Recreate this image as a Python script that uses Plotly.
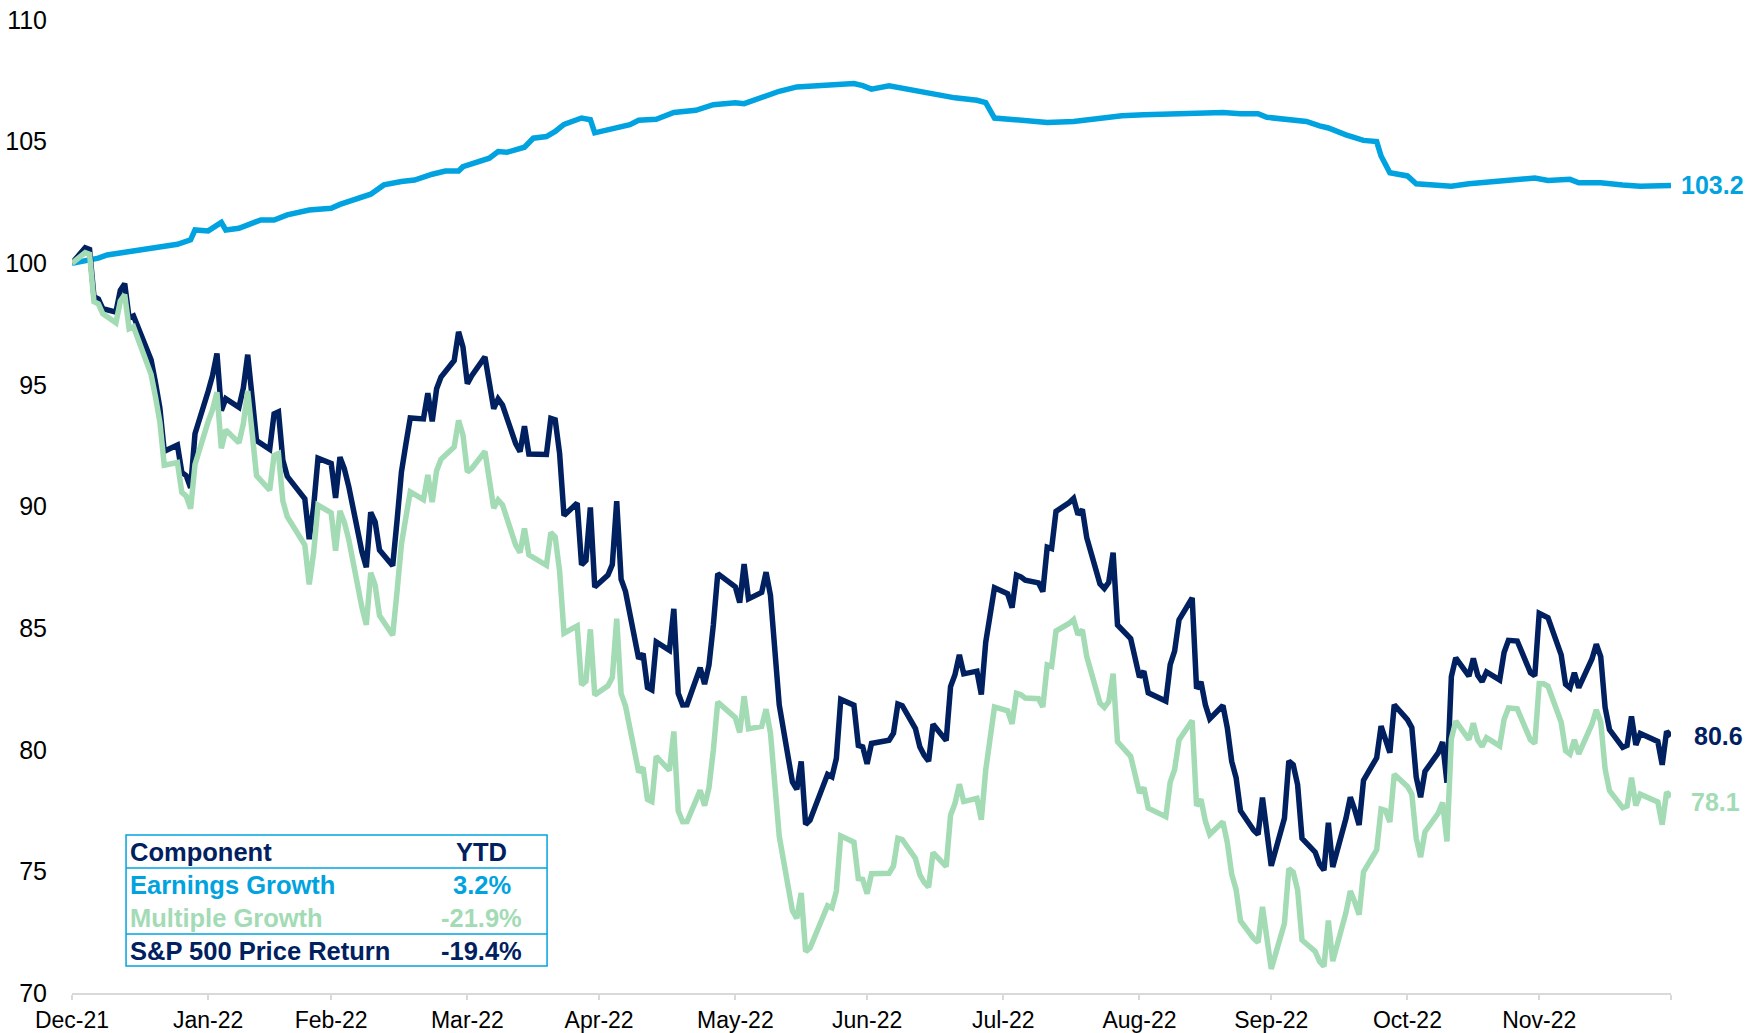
import pandas as pd
import plotly.graph_objects as go

# ---------------- data ----------------
holidays_2022 = ["2022-01-17", "2022-02-21", "2022-04-15", "2022-05-30", "2022-06-20",
                 "2022-07-04", "2022-09-05", "2022-11-24", "2022-12-26"]

# S&P 500 price return index (31-Dec-2021 = 100), one value per trading day
sp500_return = [
    100.00,
    # Jan
    100.64, 100.57, 98.62, 98.53, 98.13, 97.99, 98.89, 99.16, 97.75, 97.83,
    96.03, 95.10, 94.05, 92.27, 92.53, 91.40, 91.27, 90.77, 92.99, 94.74,
    # Feb
    95.39, 96.29, 93.94, 94.43, 94.08, 94.87, 96.24, 94.50, 92.71, 92.35,
    93.81, 93.89, 91.90, 91.24, 90.32, 88.66, 89.98, 91.99, 91.77,
    # Mar
    90.35, 92.03, 91.55, 90.82, 88.14, 87.50, 89.76, 89.37, 88.21, 87.56,
    89.43, 91.43, 92.56, 93.64, 93.60, 94.66, 93.50, 94.84, 95.32, 96.00,
    97.18, 96.56, 95.05,
    # Apr
    95.38, 96.15, 94.94, 94.02, 94.42, 94.17, 92.58, 92.26, 93.30, 92.16,
    92.14, 93.62, 93.56, 92.18, 89.63, 90.14, 87.60, 87.78, 89.96, 86.69,
    # May
    87.18, 87.61, 90.22, 87.01, 86.51, 83.74, 83.95, 82.56, 82.46, 84.43,
    84.09, 85.79, 82.32, 81.84, 81.85, 83.37, 82.70, 83.48, 85.14, 87.24,
    86.70,
    # Jun
    86.05, 87.63, 86.20, 86.47, 87.30, 86.35, 84.30, 81.84, 78.67, 78.37,
    79.52, 76.93, 77.10, 78.99, 78.89, 79.64, 82.07, 81.83, 80.18, 80.12,
    79.42,
    # Jul
    80.26, 80.39, 80.68, 81.88, 81.81, 80.87, 80.12, 79.77, 79.53, 81.05,
    80.38, 82.60, 83.08, 83.90, 83.12, 83.23, 82.27, 84.42, 85.44, 86.66,
    # Aug
    86.41, 85.84, 87.18, 87.11, 86.97, 86.86, 86.50, 88.33, 88.27, 89.80,
    90.16, 90.33, 89.67, 89.88, 88.72, 86.82, 86.63, 86.88, 88.10, 85.13,
    84.57, 83.63, 82.98,
    # Sep
    83.23, 82.34, 82.00, 83.50, 84.05, 85.34, 86.24, 82.51, 82.79, 81.85,
    81.27, 81.82, 80.90, 79.52, 78.85, 77.49, 76.69, 76.52, 78.03, 76.38,
    75.23,
    # Oct
    77.18, 79.54, 79.38, 78.56, 76.36, 75.79, 75.30, 75.05, 77.00, 75.18,
    77.17, 78.05, 77.53, 76.91, 78.74, 79.67, 80.97, 80.37, 79.88, 81.85,
    81.24,
    # Nov
    80.91, 78.88, 78.05, 79.11, 79.87, 80.32, 78.65, 83.01, 83.78, 83.03,
    83.75, 83.06, 82.80, 83.20, 82.87, 84.00, 84.50, 84.47, 83.17, 83.04,
    85.61,
    # Dec
    85.53, 85.43, 83.90, 82.69, 82.54, 83.16, 82.55, 83.73, 84.34, 83.83,
    81.74, 80.83, 80.10, 80.18, 81.37, 80.20, 80.67, 80.34, 79.38, 80.76,
    80.56,
]

# Multiple (P/E) growth index, one value per trading day
multiple_growth = [
    100.00,
    # Jan
    100.44, 100.37, 98.42, 98.33, 97.93, 97.55, 98.44, 98.71, 97.31, 97.39,
    95.43, 94.51, 93.47, 91.70, 91.81, 90.58, 90.43, 89.91, 91.73, 93.50,
    # Feb
    93.98, 94.70, 92.39, 93.15, 92.62, 93.40, 94.75, 93.04, 91.27, 90.67,
    92.10, 92.18, 90.23, 89.58, 88.42, 86.80, 88.09, 90.06, 89.74,
    # Mar
    88.18, 89.82, 89.35, 88.64, 85.85, 85.14, 87.28, 86.78, 85.52, 84.71,
    86.52, 88.46, 89.55, 90.60, 90.28, 91.30, 90.18, 91.47, 91.94, 92.45,
    93.54, 92.94, 91.42,
    # Apr
    91.56, 92.26, 90.95, 89.93, 90.27, 90.07, 88.41, 88.11, 89.10, 88.01,
    87.58, 88.93, 88.75, 87.34, 84.79, 85.09, 82.67, 82.82, 84.95, 82.25,
    # May
    82.63, 82.97, 85.39, 82.31, 81.80, 79.08, 79.27, 77.96, 77.87, 79.73,
    79.15, 80.75, 77.49, 77.04, 77.05, 78.33, 77.70, 78.43, 79.99, 81.96,
    81.32,
    # Jun
    80.71, 82.20, 80.86, 80.96, 81.67, 80.69, 78.74, 76.44, 73.38, 73.07,
    74.11, 71.70, 71.85, 73.59, 73.50, 74.19, 76.46, 76.20, 74.70, 74.67,
    74.08,
    # Jul
    74.90, 74.92, 75.22, 76.36, 76.31, 75.53, 74.86, 74.55, 74.35, 75.77,
    75.20, 77.31, 77.79, 78.58, 77.87, 78.00, 77.12, 79.16, 80.37, 81.76,
    # Aug
    81.60, 81.06, 82.32, 82.26, 82.13, 82.10, 81.76, 83.49, 83.43, 84.88,
    85.19, 85.35, 84.73, 84.93, 83.83, 81.92, 81.74, 81.98, 83.13, 80.33,
    79.73, 78.85, 78.23,
    # Sep
    78.44, 77.60, 77.25, 78.67, 79.18, 80.40, 81.20, 77.69, 77.96, 77.07,
    76.52, 77.04, 76.18, 74.88, 74.25, 72.96, 72.24, 72.08, 73.54, 72.06,
    70.99,
    # Oct
    72.86, 75.11, 74.97, 74.24, 72.18, 71.71, 71.29, 71.09, 72.98, 71.31,
    73.30, 74.19, 73.75, 73.22, 74.98, 75.88, 77.56, 77.50, 77.03, 78.99,
    78.49,
    # Nov
    78.18, 76.36, 75.59, 76.63, 77.39, 77.83, 76.23, 80.45, 81.18, 80.42,
    81.09, 80.40, 80.13, 80.50, 80.16, 81.24, 81.72, 81.68, 80.41, 80.26,
    82.72,
    # Dec
    82.71, 82.61, 81.13, 79.96, 79.82, 80.41, 79.83, 81.05, 81.64, 81.15,
    79.21, 78.32, 77.62, 77.69, 78.85, 77.71, 78.17, 77.85, 76.92, 78.26,
    78.06,
]

# Earnings growth index (read at its visible vertices)
earnings_dates = [
    "2021-12-31", "2022-01-06", "2022-01-08", "2022-01-14", "2022-01-18", "2022-01-24",
    "2022-01-27", "2022-01-28", "2022-01-31", "2022-02-03", "2022-02-04", "2022-02-07",
    "2022-02-12", "2022-02-15", "2022-02-18", "2022-02-23", "2022-02-28", "2022-03-02",
    "2022-03-09", "2022-03-12", "2022-03-16", "2022-03-19", "2022-03-23", "2022-03-26",
    "2022-03-29", "2022-03-30", "2022-04-05", "2022-04-07", "2022-04-09", "2022-04-13",
    "2022-04-15", "2022-04-18", "2022-04-20", "2022-04-22", "2022-04-26", "2022-04-28",
    "2022-04-29", "2022-05-03", "2022-05-07", "2022-05-09", "2022-05-13", "2022-05-17",
    "2022-05-22", "2022-05-26", "2022-05-31", "2022-06-02", "2022-06-06", "2022-06-10",
    "2022-06-14", "2022-06-19", "2022-06-25", "2022-06-27", "2022-06-29", "2022-07-01",
    "2022-07-05", "2022-07-08", "2022-07-11", "2022-07-15", "2022-07-20", "2022-07-25",
    "2022-07-27", "2022-07-29", "2022-08-01", "2022-08-05", "2022-08-10", "2022-08-16",
    "2022-08-22", "2022-08-27", "2022-09-01", "2022-09-09", "2022-09-14", "2022-09-19",
    "2022-09-23", "2022-09-27", "2022-09-29", "2022-10-04", "2022-10-08", "2022-10-11",
    "2022-10-13", "2022-10-17", "2022-10-21", "2022-10-24", "2022-10-25", "2022-10-27",
    "2022-10-31", "2022-11-02", "2022-11-06", "2022-11-10", "2022-11-14", "2022-11-19",
    "2022-11-24", "2022-11-29", "2022-12-02", "2022-12-07", "2022-12-09", "2022-12-14",
    "2022-12-19", "2022-12-23", "2022-12-30",
]
earnings_growth = [
    100.00, 100.21, 100.34, 100.51, 100.62, 100.78,
    100.96, 101.37, 101.33, 101.68, 101.37, 101.44,
    101.78, 101.78, 101.99, 102.19, 102.26, 102.42,
    102.84, 103.22, 103.36, 103.42, 103.66, 103.79,
    103.79, 103.97, 104.32, 104.59, 104.56, 104.77,
    105.14, 105.21, 105.42, 105.71, 105.97, 105.90,
    105.36, 105.51, 105.70, 105.88, 105.92, 106.20,
    106.29, 106.52, 106.60, 106.56, 106.80, 107.07,
    107.25, 107.30, 107.34, 107.39, 107.30, 107.16,
    107.30, 107.20, 107.07, 106.98, 106.80, 106.70,
    106.60, 105.97, 105.92, 105.88, 105.79, 105.83,
    105.97, 106.06, 106.10, 106.15, 106.20, 106.20,
    106.15, 106.15, 106.00, 105.92, 105.83, 105.65,
    105.56, 105.28, 105.05, 105.00, 104.41, 103.72,
    103.59, 103.27, 103.22, 103.17, 103.27, 103.36,
    103.40, 103.50, 103.40, 103.45, 103.31, 103.31,
    103.22, 103.17, 103.20,
]

tick_dates = ["2021-12-31", "2022-01-31", "2022-02-28", "2022-03-31", "2022-04-30",
              "2022-05-31", "2022-06-30", "2022-07-31", "2022-08-31", "2022-09-30",
              "2022-10-31", "2022-11-30", "2022-12-30"]
tick_labels = ["Dec-21", "Jan-22", "Feb-22", "Mar-22", "Apr-22", "May-22", "Jun-22",
               "Jul-22", "Aug-22", "Sep-22", "Oct-22", "Nov-22", ""]
y_ticks = [70, 75, 80, 85, 90, 95, 100, 105, 110]

table_components = ["Earnings Growth", "Multiple Growth", "S&P 500 Price Return"]
table_ytd = ["3.2%", "-21.9%", "-19.4%"]

# ---------------- styling ----------------
NAVY = "#002060"
BLUE = "#00A3E0"
GREEN = "#A3DBB5"
FONT = "Liberation Sans, Arial, sans-serif"
LW = 5.5

trade_dates = pd.bdate_range("2021-12-31", "2022-12-30", freq="C", holidays=holidays_2022)
n = min(len(trade_dates), len(sp500_return), len(multiple_growth))
trade_dates = trade_dates[:n]
sp500_return = sp500_return[:n]
multiple_growth = multiple_growth[:n]

fig = go.Figure()
fig.add_trace(go.Scatter(x=earnings_dates, y=earnings_growth, mode="lines",
                         line=dict(color=BLUE, width=LW), name="Earnings Growth"))
fig.add_trace(go.Scatter(x=trade_dates, y=sp500_return, mode="lines",
                         line=dict(color=NAVY, width=LW), name="S&P 500 Price Return"))
fig.add_trace(go.Scatter(x=trade_dates, y=multiple_growth, mode="lines",
                         line=dict(color=GREEN, width=LW), name="Multiple Growth"))

# end-of-line value labels
end_labels = [
    (earnings_dates[-1], earnings_growth[-1], BLUE, 8, 0),
    (trade_dates[-1], sp500_return[-1], NAVY, 21, 0),
    (trade_dates[-1], multiple_growth[-1], GREEN, 18, -5),
]
for xv, yv, col, xs, ys in end_labels:
    fig.add_annotation(x=xv, y=yv, xref="x", yref="y", text=f"<b>{yv:.1f}</b>",
                       showarrow=False, xanchor="left", yanchor="middle",
                       xshift=xs, yshift=ys,
                       font=dict(family=FONT, size=25, color=col))

# ---------------- table overlay ----------------
tx0, tx1 = 0.0338, 0.2971
ty0, ty1 = 0.0277, 0.1624
fig.add_shape(type="rect", xref="paper", yref="paper", x0=tx0, x1=tx1, y0=ty0, y1=ty1,
              line=dict(color=BLUE, width=1.5), fillcolor="white", layer="above")
for yl in (0.1285, 0.0606):
    fig.add_shape(type="line", xref="paper", yref="paper", x0=tx0, x1=tx1, y0=yl, y1=yl,
                  line=dict(color=BLUE, width=1.5), layer="above")

row_y = [0.1449, 0.1110, 0.0771, 0.0432]
row_colors = [NAVY, BLUE, GREEN, NAVY]
left_texts = ["Component"] + table_components
right_texts = ["YTD"] + table_ytd
for ry, col, lt, rt in zip(row_y, row_colors, left_texts, right_texts):
    fig.add_annotation(x=0.0350, y=ry, xref="paper", yref="paper", text=f"<b>{lt}</b>",
                       showarrow=False, xanchor="left", yanchor="middle",
                       font=dict(family=FONT, size=25.5, color=col))
    fig.add_annotation(x=0.2564, y=ry, xref="paper", yref="paper", text=f"<b>{rt}</b>",
                       showarrow=False, xanchor="center", yanchor="middle",
                       font=dict(family=FONT, size=25.5, color=col))

fig.update_layout(
    width=1747, height=1033,
    margin=dict(l=72, r=76, t=20, b=40),
    paper_bgcolor="white", plot_bgcolor="white",
    showlegend=False,
    font=dict(family=FONT, color="black"),
    xaxis=dict(type="date", range=[tick_dates[0], tick_dates[-1]],
               tickmode="array", tickvals=tick_dates, ticktext=tick_labels,
               showline=True, linecolor="#D9D9D9", linewidth=2,
               ticks="outside", tickcolor="#D9D9D9", tickwidth=2, ticklen=5,
               showgrid=False, zeroline=False, automargin=False,
               tickfont=dict(family=FONT, size=23, color="black")),
    yaxis=dict(range=[70, 110], tickmode="array", tickvals=y_ticks,
               showgrid=False, zeroline=False, showline=False, ticks="",
               ticklabelstandoff=24, automargin=False,
               tickfont=dict(family=FONT, size=25, color="black")),
)

fig.write_html(
    "out.html",
    config={"displayModeBar": False},
    post_script="document.body.style.margin='0';document.body.style.padding='0';"
                "document.body.style.overflow='hidden';"
                "document.documentElement.style.overflow='hidden';",
)
